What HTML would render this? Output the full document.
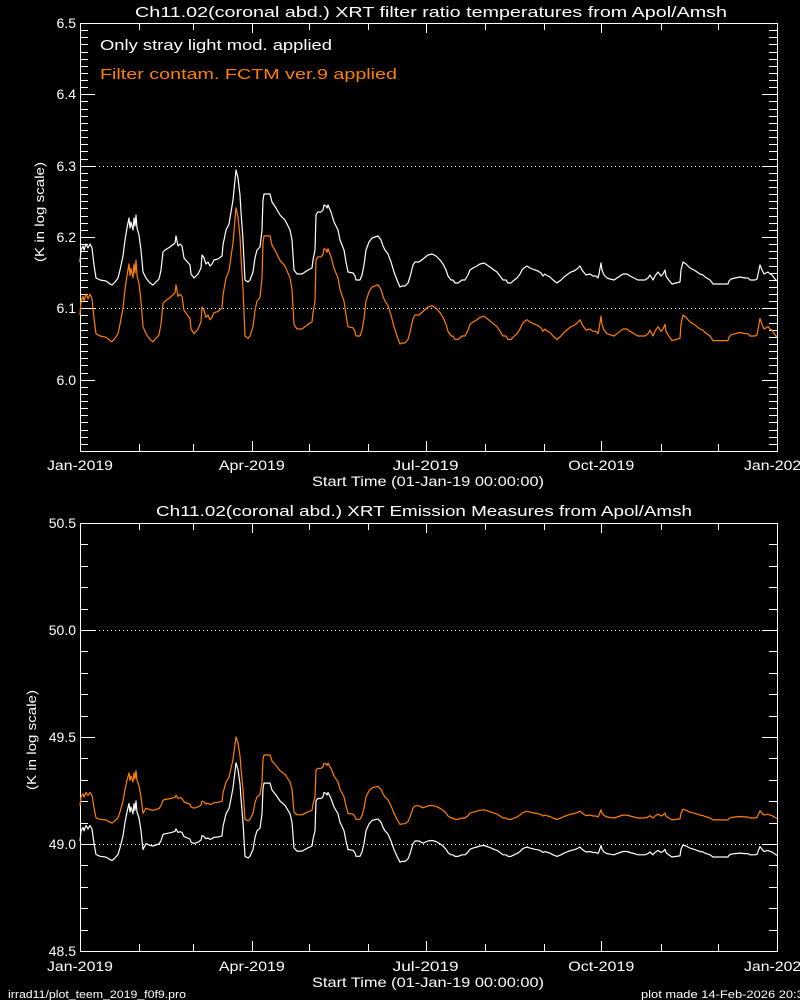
<!DOCTYPE html>
<html><head><meta charset="utf-8"><style>
html,body{margin:0;padding:0;background:#000;overflow:hidden}
svg{display:block}
text{font-family:"Liberation Sans",sans-serif;fill:#fff;}
</style></head><body>
<svg id="s" width="800" height="1000" xmlns="http://www.w3.org/2000/svg">
<rect width="800" height="1000" fill="#000"/>
<text x="431" y="17" font-size="15" text-anchor="middle" textLength="592" lengthAdjust="spacingAndGlyphs">Ch11.02(coronal abd.) XRT filter ratio temperatures from Apol/Amsh</text>
<text x="100" y="50" font-size="15" textLength="232" lengthAdjust="spacingAndGlyphs">Only stray light mod. applied</text>
<text x="100" y="79" font-size="15" style="fill:#ff7f00" textLength="297" lengthAdjust="spacingAndGlyphs">Filter contam. FCTM ver.9 applied</text>
<text x="428" y="486" font-size="14" text-anchor="middle" textLength="232" lengthAdjust="spacingAndGlyphs">Start Time (01-Jan-19 00:00:00)</text>
<text x="424" y="516" font-size="15" text-anchor="middle" textLength="536" lengthAdjust="spacingAndGlyphs">Ch11.02(coronal abd.) XRT Emission Measures from Apol/Amsh</text>
<text x="428" y="987" font-size="14" text-anchor="middle" textLength="232" lengthAdjust="spacingAndGlyphs">Start Time (01-Jan-19 00:00:00)</text>
<text x="8" y="998" font-size="11" textLength="178" lengthAdjust="spacingAndGlyphs">irrad11/plot_teem_2019_f0f9.pro</text>
<text x="641" y="998" font-size="11" textLength="170" lengthAdjust="spacingAndGlyphs">plot made 14-Feb-2026 20:30</text>
<text transform="translate(44,212) rotate(-90)" font-size="13" text-anchor="middle" textLength="100" lengthAdjust="spacingAndGlyphs">(K in log scale)</text>
<text transform="translate(36,740) rotate(-90)" font-size="13" text-anchor="middle" textLength="100" lengthAdjust="spacingAndGlyphs">(K in log scale)</text>
<g id="g"></g>
</svg>
<script>
var g=document.getElementById('g'),h='';
var L=80,R=777;
function ln(x1,y1,x2,y2,ex){h+='<line x1="'+x1+'" y1="'+y1+'" x2="'+x2+'" y2="'+y2+'" stroke="#fff" stroke-width="1" '+(ex||'')+'/>';}
function tx(x,y,t,a,s,tl){h+='<text x="'+x+'" y="'+y+'" font-size="'+(s||13)+'" text-anchor="'+(a||'middle')+'"'+(tl?' textLength="'+tl+'" lengthAdjust="spacingAndGlyphs"':'')+'>'+t+'</text>';}
var days=[0,31,59,90,120,151,181,212,243,273,304,334,365];
function axes(T,B,v0,v1,minor,major,labY,dots,skipBottom){
  h+='<rect x="'+L+'.5" y="'+T+'.5" width="'+(R-L)+'" height="'+(B-T)+'" fill="none" stroke="#fff"/>';
  var n=Math.round((v1-v0)/minor);
  for(var i=0;i<=n;i++){var v=v0+i*minor;var y=B-(B-T)*i/n;var yy=Math.round(y)+0.5;
    var mj=Math.abs(v/major-Math.round(v/major))<1e-6;var l=mj?15:8;
    ln(L,yy,L+l,yy);ln(R-l,yy,R,yy);
    if(mj&&!(skipBottom&&i==0))tx(L-4,Math.round(y)+5,v.toFixed(1),'end',14);}
  for(var k=1;k<12;k++){var x=Math.round(L+days[k]*(R-L)/365)+0.5;var l=(k%3==0)?10:7;ln(x,T,x,T+l);ln(x,B-l,x,B);}
  var lb=['Jan-2019','Apr-2019','Jul-2019','Oct-2019','Jan-2020'];
  for(var k=0;k<5;k++){tx(L+days[k*3]*(R-L)/365,labY,lb[k],'middle',14,66);}
  dots.forEach(function(y){ln(L+15,y+0.5,R-15,y+0.5,'stroke-dasharray="1,3"');});
}
axes(23,451,5.9,6.5,0.01,0.1,470,[166,308],true);
axes(523,951,48.5,50.5,0.1,0.5,971,[630,844],false);
var W=[[80,262],[81,250],[83,246],[84,250],[86,244],[88,248],[90,244],[92,248],[94,265],[96,278],[100,280],[106,281],[110,284],[112,285],[115,282],[118,278],[120,270],[123,256],[125,240],[127,228],[129,218],[130,228],[131,222],[133,230],[134,218],[135,226],[136,215],[137,228],[139,235],[141,250],[143,272],[146,278],[150,283],[153,285],[156,282],[159,279],[161,270],[163,252],[165,250],[170,247],[175,243],[176,236],[178,246],[180,244],[182,246],[184,258],[190,265],[191,274],[194,278],[198,274],[201,268],[202,255],[204,258],[206,264],[208,262],[210,266],[212,264],[214,260],[218,259],[222,256],[223,245],[226,230],[229,224],[231,212],[233,200],[234,190],[235,180],[236,170],[238,178],[240,195],[241,212],[243,240],[245,280],[248,282],[250,280],[253,272],[255,258],[257,250],[260,247],[262,230],[263,200],[264,194],[270,194],[272,202],[276,208],[280,215],[285,220],[290,230],[292,240],[294,270],[297,274],[302,274],[308,270],[312,268],[313,260],[315,250],[316,215],[317,213],[318,212],[321,212],[323,210],[324,205],[326,206],[327,208],[328,205],[331,212],[334,222],[338,230],[340,240],[344,250],[346,262],[348,272],[353,273],[355,276],[356,280],[360,280],[362,275],[364,265],[366,250],[369,242],[372,238],[375,237],[378,236],[381,240],[383,246],[385,250],[388,254],[391,262],[394,272],[397,280],[400,287],[402,286],[405,286],[408,283],[410,277],[413,265],[415,262],[419,262],[423,259],[428,255],[432,254],[436,256],[440,260],[443,264],[446,270],[448,276],[451,280],[453,280],[455,283],[458,283],[462,280],[465,280],[468,275],[470,270],[473,268],[477,266],[480,264],[484,263],[487,265],[490,267],[494,270],[497,272],[500,276],[503,280],[506,280],[508,283],[511,283],[513,281],[517,278],[520,274],[522,270],[524,268],[527,266],[530,268],[535,270],[538,271],[541,273],[543,276],[545,274],[546,275],[550,277],[553,280],[557,283],[561,280],[564,277],[568,274],[571,272],[574,271],[577,269],[579,267],[580,266],[582,270],[586,275],[590,274],[593,276],[596,276],[598,278],[599,274],[601,263],[602,270],[604,275],[607,278],[610,279],[614,280],[617,278],[620,276],[623,274],[627,274],[630,276],[634,278],[638,280],[642,280],[645,280],[648,278],[650,275],[653,280],[655,276],[658,272],[661,276],[663,274],[665,270],[666,276],[668,279],[672,284],[676,283],[680,282],[681,270],[683,262],[686,264],[690,268],[694,270],[697,272],[700,274],[703,275],[705,277],[710,280],[713,284],[722,284],[728,284],[729,281],[731,279],[735,278],[740,277],[745,278],[748,278],[750,280],[755,280],[757,279],[760,265],[762,270],[764,274],[766,273],[768,272],[770,274],[772,275],[775,279],[777,281]];
function pl(pts,c){h+='<polyline fill="none" stroke="'+c+'" stroke-width="1.2" stroke-linejoin="round" points="'+pts.map(function(p){return p[0]+','+p[1].toFixed(1)}).join(' ')+'"/>';}
var O1=W.map(function(p){return [p[0],p[1]+45+(p[1]-213)*0.164];});
var W2=W.map(function(p){
  var x=p[0],y;
  if(x>=146&&x<=222) y=838+(p[1]-262)*0.35;
  else if(x<420) y=852-(275-p[1])*0.85;
  else y=852-(275-p[1])*0.55;
  return [x,y];});
var O2=W2.map(function(p){return [p[0],p[1]-26-(p[1]-765)*0.12];});
pl(W,'#fff');pl(O1,'#ff7f00');pl(O2,'#ff7f00');pl(W2,'#fff');
g.innerHTML=h;
</script>
</body></html>
